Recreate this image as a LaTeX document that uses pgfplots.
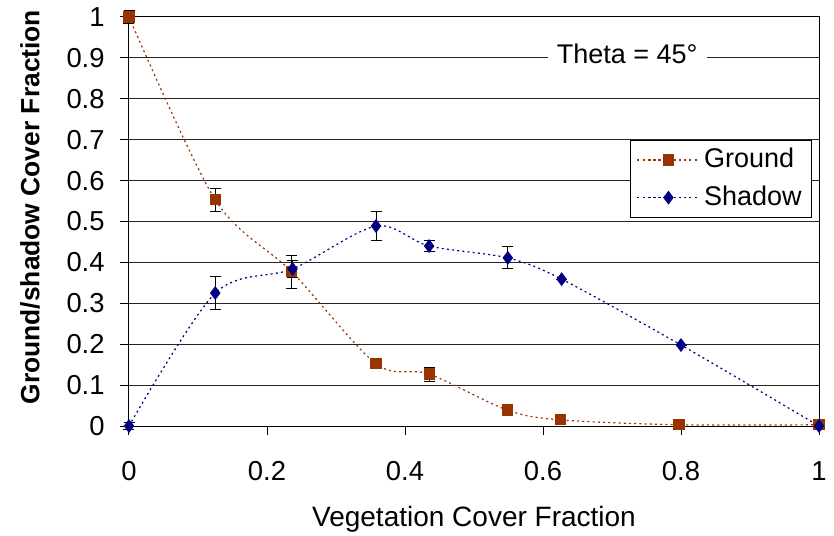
\documentclass[border=0pt]{standalone}
\usepackage{fontspec}
\setmainfont{Liberation Sans}
\usepackage{pgfplots}
\usepackage{pgfplotstable}
\pgfplotsset{compat=1.18}

\definecolor{groundc}{RGB}{153,51,0}
\definecolor{shadowc}{RGB}{0,0,128}

% x = vegetation cover fraction, y = fraction, e = half-width of error bar
\pgfplotstableread{
x      y      e
0      1.000  0.015
0.125  0.553  0.028
0.236  0.377  0.040
0.358  0.152  0.010
0.435  0.127  0.017
0.548  0.039  0
0.625  0.015  0
0.797  0.003  0
1.000  0.003  0
}\groundtab

\pgfplotstableread{
x      y      e
0      0.000  0.008
0.125  0.325  0.040
0.237  0.384  0.020
0.358  0.489  0.035
0.435  0.440  0.013
0.549  0.411  0.027
0.627  0.359  0
0.800  0.198  0
1.000  0.000  0
}\shadowtab

\begin{document}
\fontsize{13.5}{16}\selectfont
\begin{tikzpicture}
\begin{axis}[
  scale only axis,
  width=345pt, height=204.5pt,
  xmin=0, xmax=1, ymin=0, ymax=1,
  xtick={0,0.2,0.4,0.6,0.8,1},
  ytick={0,0.1,0.2,0.3,0.4,0.5,0.6,0.7,0.8,0.9,1},
  /pgf/number format/.cd, fixed, precision=1, assume math mode=true,
  /pgfplots/.cd,
  tick align=outside,
  major tick length=4.5pt,
  xtick pos=bottom, ytick pos=left,
  tick style={black, line width=0.5pt},
  axis line style={black, line width=0.5pt},
  ymajorgrids,
  major grid style={black!85, line width=0.5pt},
  ticklabel style={font=\fontsize{13.7}{16}\selectfont},
  xticklabel style={yshift=-8.5pt},
  yticklabel style={xshift=-3pt},
  xlabel={\fontsize{14}{16}\selectfont Vegetation Cover Fraction},
  ylabel={\fontsize{13.2}{16}\selectfont\bfseries Ground/shadow Cover Fraction},
  every axis x label/.style={at={(axis description cs:0.5,-0.2445)}, anchor=base},
  every axis y label/.style={at={(axis description cs:-0.1435,0.535)}, rotate=90, anchor=center},
  legend style={at={(0.99,0.70)}, anchor=north east, draw=black, line width=0.5pt,
    inner xsep=3pt, inner ysep=2pt, row sep=3pt, font=\fontsize{13.5}{16}\selectfont},
  legend cell align=left,
  legend image code/.code={%
    \draw[mark repeat=2, mark phase=2] plot coordinates {(0pt,0pt) (15.5pt,0pt) (31pt,0pt)};},
  clip=false,
]
\coordinate (O) at (rel axis cs:0,0);

\addplot+[smooth, groundc, line width=0.6pt, dash pattern=on 1pt off 1.6pt,
  mark=square*, mark size=2.5pt, mark options={solid, fill=groundc, draw=groundc},
  error bars/.cd, y dir=both, y explicit,
  error bar style={black, line width=0.5pt, solid},
  error mark options={rotate=90, mark size=2.75pt, black, line width=0.5pt, solid}]
  table[x=x, y=y, y error=e] {\groundtab};
\addlegendentry{Ground}

\addplot+[smooth, shadowc, line width=0.6pt, dash pattern=on 1pt off 1.6pt,
  mark=diamond*, mark size=3pt, mark options={solid, fill=shadowc, draw=shadowc},
  error bars/.cd, y dir=both, y explicit,
  error bar style={black, line width=0.5pt, solid},
  error mark options={rotate=90, mark size=2.75pt, black, line width=0.5pt, solid}]
  table[x=x, y=y, y error=e] {\shadowtab};
\addlegendentry{Shadow}

\node[anchor=base, fill=white, inner xsep=4.5pt, inner ysep=1pt]
  at (axis cs:0.722,0.8875) {Theta = 45°};
\end{axis}
\pgfresetboundingbox
\path[use as bounding box] ([xshift=-64.5pt, yshift=-54.5pt]O) rectangle ++(417pt,267.5pt);
\end{tikzpicture}
\end{document}
